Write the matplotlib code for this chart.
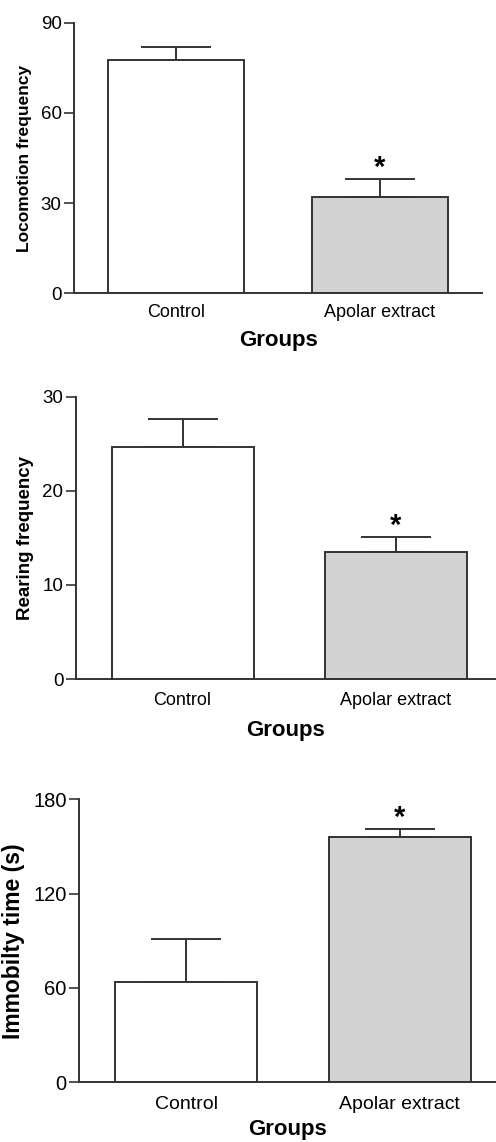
import matplotlib
matplotlib.use("Agg")
import matplotlib.pyplot as plt

plt.rcParams['font.family'] = ['Liberation Sans', 'DejaVu Sans']

groups = ["Control", "Apolar extract"]
bar_colors = ["white", "#d3d3d3"]

# values (mean, SEM upper bar)
loco_mean = [77.5, 32.0]
loco_sem = [4.5, 6.1]
rear_mean = [24.7, 13.5]
rear_sem = [2.9, 1.6]
immob_mean = [64.0, 155.8]
immob_sem = [27.2, 5.3]
signif = [False, True]

panels = [
    # (means, sems, ylabel, ymax, yticks, ylabel size, tick size, axes rect, xlim, pads)
    (loco_mean, loco_sem, "Locomotion frequency", 90, [0, 30, 60, 90], 12.5, 13.5,
     [0.1492, 0.7432, 0.8226, 0.2369], (-0.5, 1.5), (8, 6)),
    (rear_mean, rear_sem, "Rearing frequency", 30, [0, 10, 20, 30], 13.5, 13.5,
     [0.1532, 0.4054, 0.8468, 0.2472], (-0.5, 1.47), (9, 8)),
    (immob_mean, immob_sem, "Immobilty time (s)", 180, [0, 60, 120, 180], 16.5, 14.5,
     [0.1599, 0.0523, 0.8401, 0.2478], (-0.5, 1.45), (10, 4)),
]

fig = plt.figure(figsize=(4.96, 11.42), dpi=100)
edge = "#333333"

for means, sems, ylab, ymax, yticks, ysize, tsize, rect, xlim, pads in panels:
    ax = fig.add_axes(rect)
    x = range(len(groups))
    ax.bar(x, means, width=2 / 3, color=bar_colors, edgecolor=edge, linewidth=1.4, zorder=2)
    ax.errorbar(x, means, yerr=[[0] * len(sems), sems], fmt="none", ecolor=edge,
                elinewidth=1.4, capsize=25, capthick=1.4, zorder=1)
    for i, (m, s) in enumerate(zip(means, sems)):
        if signif[i]:
            ax.annotate("*", (i, m + s), xytext=(0, -2), textcoords="offset points",
                        ha="center", va="bottom", fontsize=21, fontweight="bold")
    ax.set_xlim(*xlim)
    ax.set_ylim(0, ymax)
    ax.set_yticks(yticks)
    ax.set_xticks(list(x))
    ax.set_xticklabels(groups, fontsize=tsize - 0.5)
    ax.tick_params(axis="x", length=0, pad=pads[0])
    ax.tick_params(axis="y", length=7, width=1.2, color=edge, labelsize=tsize, pad=2)
    for side in ["top", "right"]:
        ax.spines[side].set_visible(False)
    for side in ["left", "bottom"]:
        ax.spines[side].set_color(edge)
        ax.spines[side].set_linewidth(1.4)
    ax.set_xlabel("Groups", fontsize=16, fontweight="bold", labelpad=pads[1])
    ax.set_ylabel(ylab, fontsize=ysize, fontweight="bold", labelpad=6)

fig.savefig("out.png", dpi=100)
